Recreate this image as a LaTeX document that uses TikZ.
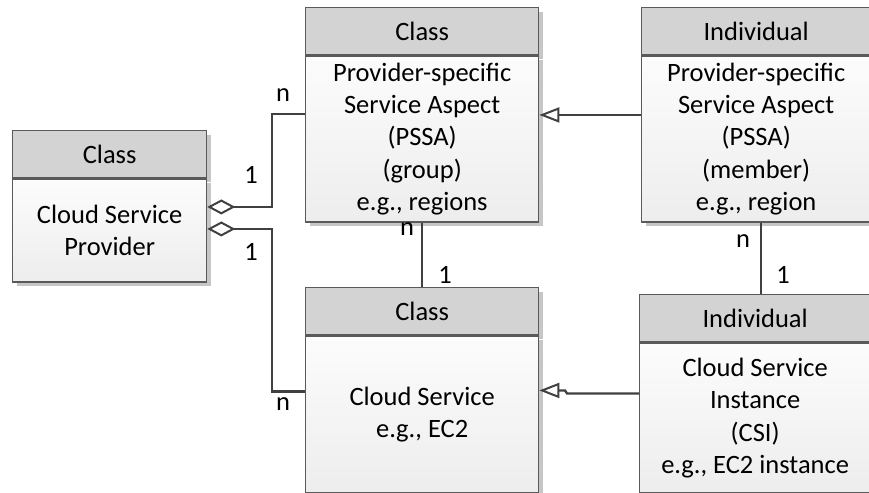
\documentclass[tikz,border=0pt]{standalone}
\usepackage{fontspec}
\setmainfont{Carlito}
\usetikzlibrary{arrows.meta,shadows}
\definecolor{boxline}{HTML}{5A5A5A}
\definecolor{lineclr}{HTML}{404040}
\definecolor{hdrgray}{HTML}{D3D3D3}
\definecolor{bodytop}{HTML}{FCFCFC}
\definecolor{bodybot}{HTML}{EDEDED}
\definecolor{shadowgray}{HTML}{C6C6C6}
\begin{document}
\begin{tikzpicture}[x=1pt,y=-1pt,
  font=\fontsize{26.5}{32.3}\selectfont,
  shad/.style={drop shadow={shadow xshift=4pt, shadow yshift=-4pt, fill=shadowgray, opacity=1}},
  hdr/.style={shad, draw=boxline, line width=1.3pt, fill=hdrgray, anchor=north west,
    minimum height=47pt, inner sep=0pt},
  bodybox/.style={shad, draw=boxline, line width=1.3pt, top color=bodytop, bottom color=bodybot,
    anchor=north west, inner sep=0pt, align=center},
  agg/.style={draw=lineclr, line width=2.3pt, line join=miter,
    -{Diamond[open, length=28pt, width=15pt, line width=2pt]}},
  gen/.style={draw=lineclr, line width=2.3pt, line join=miter,
    -{Triangle[open, length=20pt, width=15pt, line width=2pt]}},
  assoc/.style={draw=lineclr, line width=2.3pt},
  lbl/.style={anchor=base, inner sep=0pt}
]
\useasboundingbox (0,0) rectangle (869,492);

% Box 1: Cloud Service Provider
\node[hdr, minimum width=194pt] (b1h) at (12,130) {Class};
\node[bodybox, minimum width=194pt, minimum height=103pt] (b1b) at (b1h.south west) {Cloud Service\\Provider};

% Box 2: PSSA group
\node[hdr, minimum width=233pt] (b2h) at (305,7) {Class};
\node[bodybox, minimum width=233pt, minimum height=166pt] (b2b) at (b2h.south west)
  {Provider-specific\\Service Aspect\\(PSSA)\\(group)\\e.g., regions};

% Box 3: PSSA member
\node[hdr, minimum width=229pt] (b3h) at (641,7) {Individual};
\node[bodybox, minimum width=229pt, minimum height=166pt] (b3b) at (b3h.south west)
  {Provider-specific\\Service Aspect\\(PSSA)\\(member)\\e.g., region};

% Box 4: Cloud Service
\node[hdr, minimum width=233pt] (b4h) at (305,287) {Class};
\node[bodybox, minimum width=233pt, minimum height=157pt] (b4b) at (b4h.south west)
  {Cloud Service\\e.g., EC2};

% Box 5: Cloud Service Instance
\node[hdr, minimum width=231pt] (b5h) at (639,294) {Individual};
\node[bodybox, minimum width=231pt, minimum height=150pt] (b5b) at (b5h.south west)
  {Cloud Service\\Instance\\(CSI)\\e.g., EC2 instance};

% Aggregations
\draw[agg] ([yshift=-59pt]b2b.north west) -- ++(-33,0) |- ([yshift=23.5pt]b1b.east);
\draw[agg] ([yshift=23pt]b4b.west) -- ++(-33,0) |- ([yshift=1.5pt]b1b.east);

% Associations
\draw[assoc] (b2b.south) -- (b4h.north);
\draw[assoc] ([xshift=4.5pt]b3b.south) -- ([xshift=4.5pt]b3b.south |- b5h.north);

% Generalizations
\draw[gen] ([yshift=24pt]b3b.west) -- ([yshift=24pt]b2b.east);
\draw[gen] ([yshift=24.5pt]b5b.west) -- ++(-72,0) -- ++(-2,-3) -- ([yshift=24pt]b4b.east);

% Multiplicities
\node[lbl] (m1) at (283,102) {n};
\node[lbl] (m2) at (251,183) {1};
\node[lbl] (m3) at (251,260) {1};
\node[lbl] (m4) at (283,410) {n};
\node[lbl] (m5) at (407,235) {n};
\node[lbl] (m6) at (445,283) {1};
\node[lbl] (m7) at (743,247) {n};
\node[lbl] (m8) at (783,283) {1};
\end{tikzpicture}
\end{document}
